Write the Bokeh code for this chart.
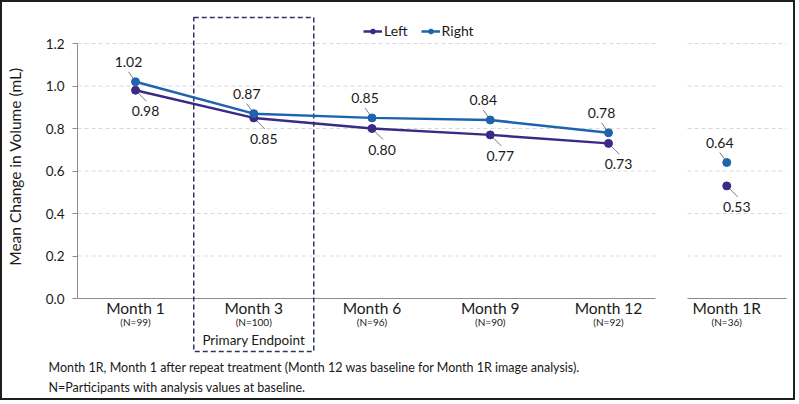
from bokeh.plotting import figure
from bokeh.models import (Range1d, FixedTicker, NumeralTickFormatter, LinearAxis,
                          CustomJSTickFormatter, ColumnDataSource, Legend, LegendItem, Title)
from bokeh.core.properties import value
from bokeh.embed import file_html
from bokeh.resources import INLINE

# ---------------- data ----------------
categories = ["Month 1", "Month 3", "Month 6", "Month 9", "Month 12", "Month 1R"]
n_labels = ["(N=99)", "(N=100)", "(N=96)", "(N=90)", "(N=92)", "(N=36)"]
left_vals = [0.98, 0.85, 0.80, 0.77, 0.73, 0.53]
right_vals = [1.02, 0.87, 0.85, 0.84, 0.78, 0.64]
y_ticks = [0.0, 0.2, 0.4, 0.6, 0.8, 1.0, 1.2]
footnotes = ["Month 1R, Month 1 after repeat treatment (Month 12 was baseline for Month 1R image analysis).",
             "N=Participants with analysis values at baseline."]
endpoint_text = "Primary Endpoint"
y_title = "Mean Change in Volume (mL)"

# ---------------- styling ----------------
FONT = "Lato"
C_LEFT = "#3a2a85"
C_RIGHT = "#1e64ad"
GRID = "#d9d9d9"
AXIS = "#8c8c8c"
TXT = "#1a1a1a"

W, H = 795, 400
PX_X = 118.25   # px per category
PX_Y = 212.5    # px per 1.0 on y
FRAME_L = 75
FRAME_B = 354   # canvas y of frame bottom
X_CAT0 = 133    # canvas x of first category
Y_ZERO = 296    # canvas y of value 0

def dx(px):
    return px / PX_X

def dy(px):
    return px / PX_Y

xr = Range1d(dx(FRAME_L - X_CAT0), dx(W - X_CAT0))
yr = Range1d(-dy(FRAME_B - Y_ZERO), dy(Y_ZERO))

p = figure(width=W, height=H, x_range=xr, y_range=yr, output_backend="svg",
           toolbar_location=None, x_axis_location=None,
           min_border_left=FRAME_L, min_border_right=0, min_border_top=0,
           min_border_bottom=H - FRAME_B)
p.styles = {"border": "2px solid #1f1f1f"}
p.outline_line_color = None
p.xgrid.visible = False
p.ygrid.visible = False
p.background_fill_color = "white"
p.border_fill_color = "white"

ya = p.yaxis[0]
ya.ticker = FixedTicker(ticks=y_ticks)
ya.bounds = (0, 1.2)
ya.formatter = NumeralTickFormatter(format="0.0")
ya.axis_line_color = AXIS
ya.major_tick_line_color = AXIS
ya.major_tick_out = 5
ya.major_tick_in = 0
ya.minor_tick_line_color = None
ya.major_label_text_font = FONT
ya.major_label_text_font_size = "13.5px"
ya.major_label_text_color = TXT
ya.major_label_standoff = 8

# y title as a single-tick axis so it sits at a chosen data height
title_axis = LinearAxis(ticker=FixedTicker(ticks=[dy(Y_ZERO - 164)]),
                        formatter=CustomJSTickFormatter(args=dict(label=y_title), code="return label"),
                        major_label_orientation="vertical",
                        axis_line_color=None, major_tick_line_color=None, minor_tick_line_color=None,
                        major_label_text_font=FONT, major_label_text_font_size="15.5px",
                        major_label_text_color=TXT, major_label_standoff=13)
p.add_layout(title_axis, "left")

idx = list(range(len(categories)))
main_idx = idx[:5]

# gridlines (two panels) and x axis baselines
main_x0, main_x1 = xr.start, dx(653 - X_CAT0)
side_x0, side_x1 = dx(685 - X_CAT0), dx(784 - X_CAT0)
grid_y = [t for t in y_ticks if t > 0]
p.segment(x0=[main_x0] * len(grid_y) + [side_x0] * len(grid_y),
          x1=[main_x1] * len(grid_y) + [side_x1] * len(grid_y),
          y0=grid_y + grid_y, y1=grid_y + grid_y,
          line_color=GRID, line_width=1, line_dash="4 3")
p.segment(x0=[main_x0, side_x0], x1=[main_x1, side_x1], y0=[0, 0], y1=[0, 0],
          line_color=AXIS, line_width=1.2)

# primary endpoint box around Month 3
p.quad(left=[1 - dx(60)], right=[1 + dx(60)], top=[dy(Y_ZERO - 15)], bottom=[-dy(349 - Y_ZERO)],
       fill_color=None, line_color="#2e3560", line_width=1.5, line_dash="5 3")

# series
rl = p.line(main_idx, left_vals[:5], line_color=C_LEFT, line_width=2.5)
rs_l = p.scatter(idx, left_vals, size=8, fill_color=C_LEFT, line_color=C_LEFT)
rr = p.line(main_idx, right_vals[:5], line_color=C_RIGHT, line_width=2.5)
rs_r = p.scatter(idx, right_vals, size=8, fill_color=C_RIGHT, line_color=C_RIGHT)

# leader lines
p.segment(x0=[i - dx(7) for i in idx], y0=[v + dy(10) for v in right_vals],
          x1=[i - dx(2) for i in idx], y1=[v + dy(3) for v in right_vals],
          line_color="#595959", line_width=0.8)
p.segment(x0=[i + dx(3) for i in idx], y0=[v - dy(3) for v in left_vals],
          x1=[i + dx(11) for i in idx], y1=[v - dy(11) for v in left_vals],
          line_color="#595959", line_width=0.8)

# data labels
src_r = ColumnDataSource(dict(x=[i - dx(7) for i in idx], y=[v + dy(20) for v in right_vals],
                              t=["%.2f" % v for v in right_vals]))
src_l = ColumnDataSource(dict(x=[i + dx(10) for i in idx], y=[v - dy(21) for v in left_vals],
                              t=["%.2f" % v for v in left_vals]))
for s in (src_r, src_l):
    p.text(x="x", y="y", text="t", source=s, text_font=value(FONT), text_font_size="14px",
           text_align="center", text_baseline="middle", text_color=TXT)

# category labels
p.text(x=idx, y=[-dy(9)] * len(idx), text=categories, text_font=value(FONT),
       text_font_size="15.5px", text_align="center", text_baseline="middle", text_color=TXT)
p.text(x=idx, y=[-dy(23)] * len(idx), text=n_labels, text_font=value(FONT),
       text_font_size="10px", text_align="center", text_baseline="middle", text_color=TXT)
p.text(x=[1], y=[-dy(41)], text=[endpoint_text], text_font=value(FONT),
       text_font_size="13.5px", text_align="center", text_baseline="middle", text_color=TXT)

# footnotes below the frame
for t, so in zip(footnotes, [3, 2]):
    p.add_layout(Title(text=t, align="left", offset=46 - FRAME_L, standoff=so,
                       text_font=FONT, text_font_size="12.5px", text_font_style="normal",
                       text_color=TXT), "below")

# legend
legend = Legend(items=[LegendItem(label="Left", renderers=[rl, rs_l]),
                       LegendItem(label="Right", renderers=[rr, rs_r])],
                orientation="horizontal", location=(286, 317),
                label_text_font=FONT, label_text_font_size="14px", label_text_color=TXT,
                glyph_width=19, glyph_height=12, label_standoff=2, spacing=13,
                padding=0, margin=0, border_line_color=None, background_fill_alpha=0)
p.add_layout(legend)

open("out.html", "w").write(file_html(p, INLINE))
